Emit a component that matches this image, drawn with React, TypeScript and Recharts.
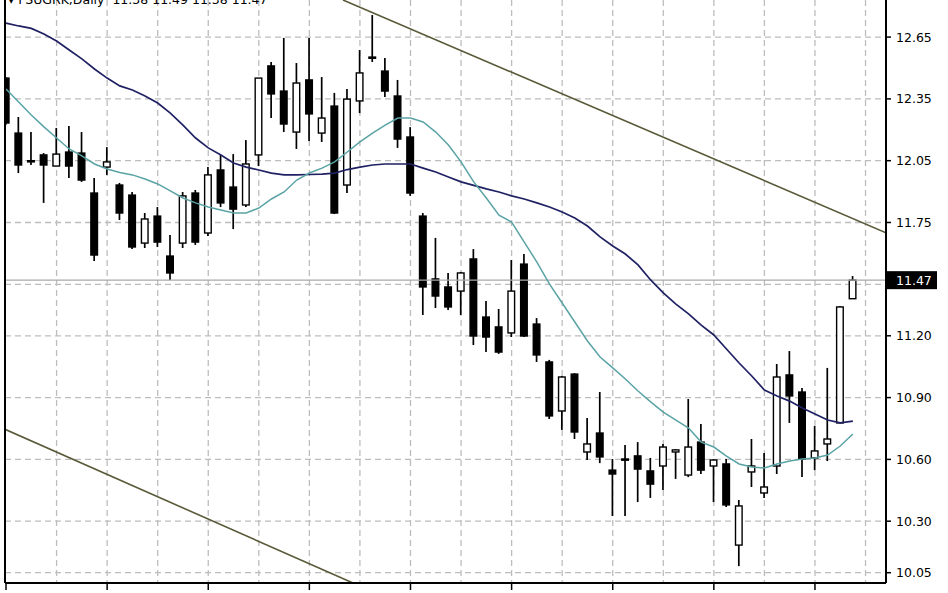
import { Bar, CartesianGrid, ComposedChart, Line, ReferenceLine, XAxis, YAxis } from "recharts";

// daily candles (index = trading day slot)
const opens = [
  12.451, 12.184, 12.05, 12.078, 12.024, 12.092, 12.087, 11.893, 12.019, 11.932,
  11.883, 11.65, 11.781, 11.587, 11.65, 11.893, 11.699, 12.005, 11.922, 11.835,
  12.078, 12.51, 12.388, 12.189, 12.442, 12.184, 12.315, 11.932, 12.34, 12.553,
  12.485, 12.364, 12.165, 11.781, 11.476, 11.437, 11.417, 11.573, 11.291, 11.243,
  11.214, 11.548, 11.257, 11.073, 10.835, 11.014, 10.636, 10.728, 10.548, 10.602,
  10.617, 10.544, 10.568, 10.636, 10.524, 10.684, 10.568, 10.578, 10.184, 10.539,
  10.437, 10.568, 11.01, 10.927, 10.607, 10.675, 10.777, 11.38,
];
const highs = [
  12.456, 12.262, 12.189, 12.087, 12.209, 12.218, 12.189, 11.966, 12.116, 11.942,
  11.898, 11.796, 11.825, 11.689, 11.898, 11.908, 12.019, 12.078, 12.082, 12.15,
  12.451, 12.529, 12.646, 12.524, 12.646, 12.456, 12.379, 12.398, 12.587, 12.757,
  12.548, 12.442, 12.213, 11.796, 11.675, 11.505, 11.51, 11.621, 11.369, 11.33,
  11.568, 11.597, 11.286, 11.083, 11.005, 11.019, 10.801, 10.927, 10.602, 10.67,
  10.684, 10.607, 10.675, 10.65, 10.893, 10.772, 10.602, 10.602, 10.403, 10.699,
  10.631, 11.063, 11.126, 10.947, 10.762, 11.044, 11.345, 11.49,
];
const lows = [
  12.223, 11.99, 12.029, 11.845, 12.024, 11.966, 11.947, 11.563, 11.981, 11.762,
  11.621, 11.626, 11.631, 11.471, 11.626, 11.641, 11.684, 11.825, 11.718, 11.825,
  12.024, 12.257, 12.189, 12.107, 12.146, 12.141, 11.791, 11.893, 12.281, 12.529,
  12.359, 12.112, 11.879, 11.301, 11.335, 11.325, 11.301, 11.155, 11.121, 11.112,
  11.194, 11.194, 11.073, 10.796, 10.743, 10.699, 10.597, 10.582, 10.325, 10.325,
  10.393, 10.413, 10.451, 10.505, 10.514, 10.529, 10.393, 10.369, 10.082, 10.466,
  10.413, 10.529, 10.777, 10.514, 10.548, 10.592, 10.777, 11.38,
];
const closes = [
  12.233, 12.029, 12.045, 12.029, 12.082, 12.024, 11.956, 11.592, 12.044, 11.796,
  11.631, 11.767, 11.655, 11.505, 11.879, 11.655, 11.981, 11.845, 11.815, 12.034,
  12.451, 12.374, 12.228, 12.427, 12.277, 12.257, 11.796, 12.349, 12.476, 12.548,
  12.388, 12.155, 11.893, 11.437, 11.393, 11.34, 11.505, 11.199, 11.194, 11.121,
  11.417, 11.199, 11.107, 10.811, 11.0, 10.733, 10.675, 10.612, 10.529, 10.597,
  10.553, 10.48, 10.66, 10.646, 10.66, 10.548, 10.597, 10.379, 10.374, 10.568,
  10.466, 11.0, 10.908, 10.602, 10.641, 10.699, 11.34, 11.47,
];

// moving averages (slow = navy, fast = teal)
const maSlow = [
  12.718, 12.704, 12.692, 12.665, 12.631, 12.587, 12.544, 12.495, 12.451, 12.413,
  12.393, 12.364, 12.33, 12.281, 12.223, 12.16, 12.112, 12.078, 12.039, 12.019,
  12.005, 11.99, 11.981, 11.981, 11.983, 11.985, 11.99, 12.007, 12.019, 12.029,
  12.034, 12.034, 12.034, 12.014, 11.995, 11.971, 11.947, 11.93, 11.913, 11.898,
  11.879, 11.864, 11.845, 11.825, 11.801, 11.772, 11.733, 11.68, 11.636, 11.597,
  11.544, 11.471, 11.408, 11.354, 11.306, 11.252, 11.204, 11.136, 11.068, 11.005,
  10.937, 10.908, 10.883, 10.849, 10.82, 10.791, 10.777, 10.786,
];
const maFast = [
  12.398, 12.335, 12.272, 12.214, 12.16, 12.107, 12.073, 12.034, 12.01, 11.993,
  11.981, 11.961, 11.937, 11.903, 11.869, 11.845, 11.825, 11.811, 11.796, 11.796,
  11.82, 11.864, 11.898, 11.956, 11.99, 12.014, 12.044, 12.092, 12.141, 12.184,
  12.223, 12.257, 12.257, 12.238, 12.189, 12.126, 12.044, 11.947, 11.869, 11.786,
  11.752, 11.655, 11.558, 11.451, 11.359, 11.267, 11.175, 11.097, 11.044, 10.99,
  10.932, 10.879, 10.83, 10.791, 10.752, 10.684, 10.66, 10.616, 10.578, 10.563,
  10.558, 10.578, 10.592, 10.602, 10.607, 10.621, 10.665, 10.723,
];

// trend channel end points (slot, price)
const upperChannel = [
  { x: 26.66, y: 12.83 },
  { x: 69.62, y: 11.7 },
];
const lowerChannel = [
  { x: -0.08, y: 10.746 },
  { x: 27.45, y: 10.0 },
];

const priceTicks = [12.65, 12.35, 12.05, 11.75, 11.47, 11.2, 10.9, 10.6, 10.3, 10.05];
const gridPrices = [12.65, 12.35, 12.05, 11.75, 11.45, 11.2, 10.9, 10.6, 10.3, 10.05];
const gridSlots = [4, 8, 12, 16, 20, 24, 28, 32, 36, 40, 44, 48, 52, 56, 60, 64, 68];
const dateTicks = [0, 8, 16, 24, 32, 40, 48, 56, 64];
const lastPrice = 11.47;
const title = "\u25BE FSUGRK,Daily  11.38 11.49 11.38 11.47";

const rows = opens.map((o, i) => ({
  i,
  open: o,
  high: highs[i],
  low: lows[i],
  close: closes[i],
  maSlow: maSlow[i],
  maFast: maFast[i],
}));

const FONT = "DejaVu Sans";

function Candle(props: any) {
  const { x, y, width, height, payload } = props;
  if (x == null || y == null) return null;
  const top = Math.min(y, y + height);
  const span = Math.abs(height);
  const { open, close, high, low } = payload;
  const k = span / (high - low || 1);
  const cx = x + width / 2;
  const yOf = (v: number) => top + (high - v) * k;
  const up = close >= open;
  const bTop = yOf(Math.max(open, close));
  const bh = Math.max(yOf(Math.min(open, close)) - bTop, 1.2);
  return (
    <g>
      <line x1={cx} x2={cx} y1={top} y2={top + span} stroke="#000" strokeWidth={1.7} />
      <rect x={cx - 3.3} y={bTop} width={6.6} height={bh} fill={up ? "#fff" : "#000"} stroke="#000" strokeWidth={1.4} />
    </g>
  );
}

function PriceTick({ x, y, payload }: any) {
  const v = payload.value as number;
  const txt = v.toFixed(2);
  if (v === lastPrice) {
    return (
      <g>
        <rect x={x - 9} y={y - 9} width={50} height={18} fill="#000" />
        <text x={x} y={y} dy="0.36em" fill="#fff" fontSize={12.5} fontFamily={FONT}>
          {txt}
        </text>
      </g>
    );
  }
  return (
    <text x={x} y={y} dy="0.36em" fill="#000" fontSize={12.5} fontFamily={FONT}>
      {txt}
    </text>
  );
}

export default function App() {
  return (
    <div style={{ position: "relative", width: 948, height: 593, overflow: "hidden", background: "#fff" }}>
      <style>{"body{margin:0}"}</style>
      <ComposedChart width={948} height={593} data={rows} margin={{ top: 0, right: 0, bottom: 0, left: 0 }}>
        <CartesianGrid
          horizontalValues={gridPrices}
          verticalValues={gridSlots}
          stroke="#bdbdbd"
          strokeWidth={1.3}
          strokeDasharray="6 4"
        />
        <XAxis
          type="number"
          dataKey="i"
          domain={[-0.08, 69.62]}
          allowDataOverflow
          ticks={dateTicks}
          tickFormatter={() => ""}
          height={10}
          tickSize={7}
          axisLine={{ stroke: "#000", strokeWidth: 2 }}
          tickLine={{ stroke: "#000", strokeWidth: 1.5 }}
        />
        <YAxis
          yAxisId="frame"
          orientation="left"
          type="number"
          domain={[0, 1]}
          width={5}
          tick={false}
          tickLine={false}
          axisLine={{ stroke: "#000", strokeWidth: 2 }}
        />
        <YAxis
          orientation="right"
          type="number"
          domain={[10.0, 12.83]}
          allowDataOverflow
          ticks={priceTicks}
          interval={0}
          width={62}
          tickSize={5}
          tickMargin={5}
          tick={<PriceTick />}
          axisLine={{ stroke: "#000", strokeWidth: 2 }}
          tickLine={{ stroke: "#000", strokeWidth: 1.5 }}
        />
        <ReferenceLine y={lastPrice} stroke="#a8a8a8" strokeWidth={1.3} />
        <ReferenceLine segment={upperChannel} stroke="#5a5a3a" strokeWidth={1.6} ifOverflow="hidden" />
        <ReferenceLine segment={lowerChannel} stroke="#5a5a3a" strokeWidth={1.6} ifOverflow="hidden" />
        <Bar dataKey={(d: any) => [d.low, d.high]} barSize={8} shape={<Candle />} isAnimationActive={false} />
        <Line type="linear" dataKey="maSlow" stroke="#1f2163" strokeWidth={1.7} dot={false} isAnimationActive={false} />
        <Line type="linear" dataKey="maFast" stroke="#5aa3a5" strokeWidth={1.5} dot={false} isAnimationActive={false} />
      </ComposedChart>
      <div
        style={{
          position: "absolute",
          left: 8,
          top: -7,
          fontFamily: FONT,
          fontSize: 12.5,
          lineHeight: "14px",
          whiteSpace: "pre",
          color: "#000",
        }}
      >
        {title}
      </div>
    </div>
  );
}
